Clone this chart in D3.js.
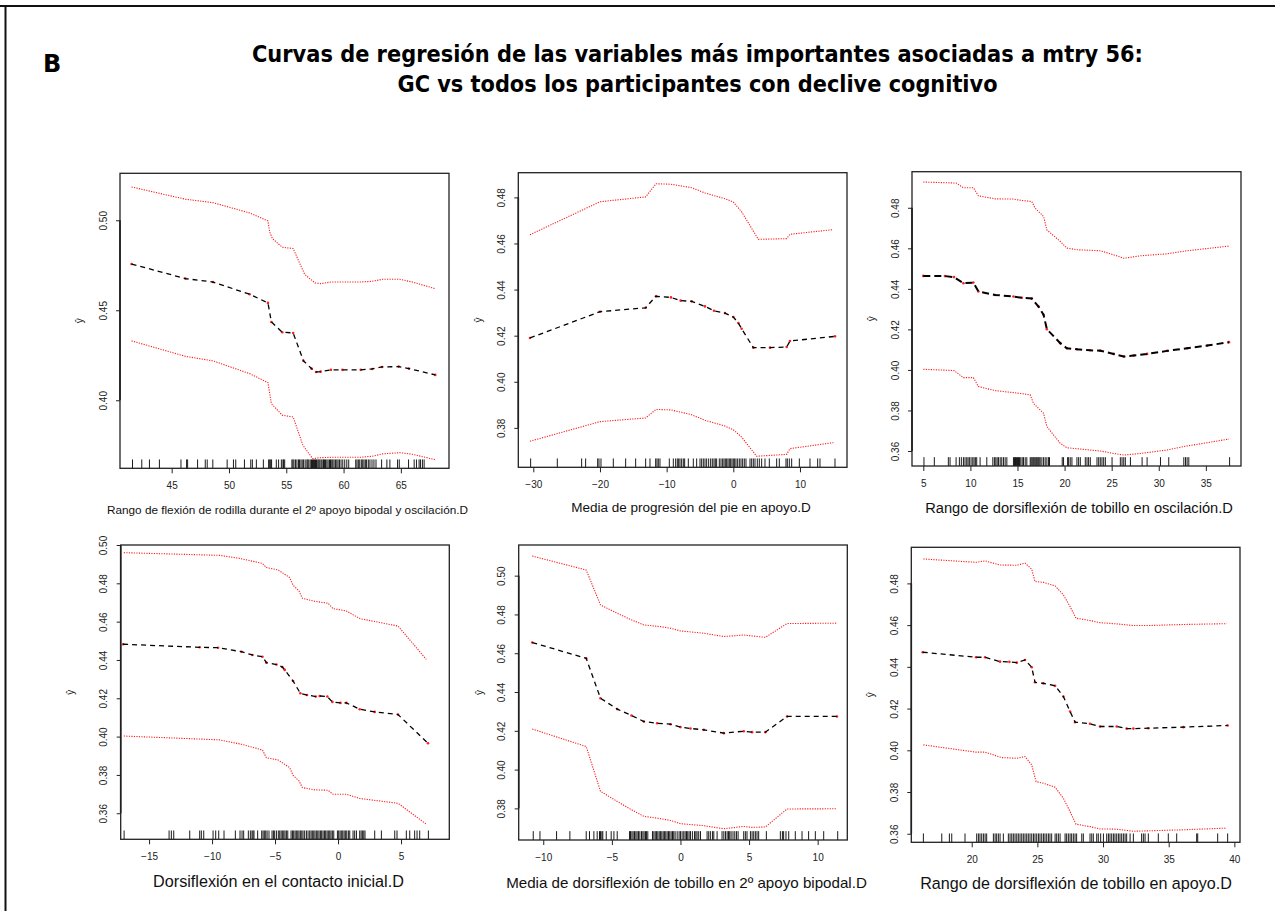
<!DOCTYPE html>
<html>
<head>
<meta charset="utf-8">
<script src="https://cdn.jsdelivr.net/npm/d3@7"></script>
<style>
  body { margin: 0; background: #fff; }
  svg { display: block; }
</style>
</head>
<body>
<svg id="fig" width="1275" height="911"></svg>
<script>
// ---------- Figure text ----------
const panelLetter = "B";
const titleLines = [
  "Curvas de regresión de las variables más importantes asociadas a mtry 56:",
  "GC vs todos los participantes con declive cognitivo"
];
const axisLabels = [
  "Rango de flexión de rodilla durante el 2º apoyo bipodal y oscilación.D",
  "Media de progresión del pie en apoyo.D",
  "Rango de dorsiflexión de tobillo en oscilación.D",
  "Dorsiflexión en el contacto inicial.D",
  "Media de dorsiflexión de tobillo en 2º apoyo bipodal.D",
  "Rango de dorsiflexión de tobillo en apoyo.D"
];
const yLabel = "ŷ";

// ---------- Tick values ----------
const xTicks1 = [45, 50, 55, 60, 65];
const yTicks1 = [0.40, 0.45, 0.50];
const xTicks2 = [-30, -20, -10, 0, 10];
const yTicks2 = [0.38, 0.40, 0.42, 0.44, 0.46, 0.48];
const xTicks3 = [5, 10, 15, 20, 25, 30, 35];
const yTicks3 = [0.36, 0.38, 0.40, 0.42, 0.44, 0.46, 0.48];
const xTicks4 = [-15, -10, -5, 0, 5];
const yTicks4 = [0.36, 0.38, 0.40, 0.42, 0.44, 0.46, 0.48, 0.50];
const xTicks5 = [-10, -5, 0, 5, 10];
const yTicks5 = [0.38, 0.40, 0.42, 0.44, 0.46, 0.48, 0.50];
const xTicks6 = [20, 25, 30, 35, 40];
const yTicks6 = [0.36, 0.38, 0.40, 0.42, 0.44, 0.46, 0.48];

// ---------- 1: knee flexion range ----------
const kneeMean = [[41.5,0.4757],[46.2,0.4676],[48.6,0.4657],[51.8,0.4589],[53.4,0.4541],[53.7,0.4435],[54.65,0.4378],[55.6,0.4374],[56.5,0.4219],[57.2,0.4176],[57.6,0.4157],[58.0,0.4159],[58.9,0.4169],[59.9,0.4169],[61.5,0.4169],[62.5,0.4174],[63.35,0.4185],[64.8,0.4187],[65.7,0.4176],[68.0,0.4141]];
const kneeUpper = [[41.5,0.5185],[46.2,0.5117],[48.6,0.5098],[51.8,0.5041],[53.4,0.4996],[53.55,0.4935],[53.8,0.4898],[54.65,0.485],[55.6,0.4843],[56.6,0.47],[57.5,0.4652],[58.0,0.4648],[58.9,0.4657],[61.4,0.4657],[62.5,0.4661],[63.4,0.4672],[64.9,0.4672],[66.0,0.4657],[68.0,0.462]];
const kneeLower = [[41.5,0.433],[46.2,0.4244],[48.6,0.4219],[51.8,0.4148],[53.4,0.4098],[53.7,0.3981],[54.65,0.3917],[55.6,0.3907],[56.45,0.375],[57.3,0.3676],[58.0,0.3681],[58.9,0.3683],[61.4,0.3683],[62.5,0.3689],[63.4,0.3702],[64.9,0.3709],[66.0,0.37],[68.0,0.367]];
const kneeRug = [41.58,42.39,43.06,43.93,45.81,46.3,46.39,47.26,47.93,48.1,48.59,49.84,50.39,50.59,51.35,51.9,52.04,52.39,53.0,53.46,53.55,53.64,53.72,54.13,54.33,54.57,54.71,54.77,54.86,55.49,55.58,55.67,55.81,55.93,56.07,56.16,56.28,56.39,56.51,56.65,56.8,56.88,56.97,57.09,57.2,57.29,57.38,57.46,57.55,57.64,57.75,57.84,57.93,58.04,58.13,58.25,58.33,58.42,58.54,58.65,58.77,58.86,58.97,59.06,59.17,59.29,59.41,59.52,59.64,59.78,59.93,60.1,60.28,60.45,61.06,61.17,61.29,61.41,61.55,61.67,61.78,61.9,62.01,62.16,62.3,62.48,62.65,62.83,63.32,63.78,64.04,64.71,64.86,65.67,66.16,66.36,66.59,66.71,66.88,67.03];

// ---------- 2: foot progression in stance ----------
const footMean = [[-30.5,0.419],[-20.0,0.4304],[-13.15,0.4321],[-11.6,0.4371],[-9.35,0.4366],[-7.9,0.4352],[-6.25,0.4349],[-4.25,0.4327],[-2.9,0.4308],[-1.25,0.4298],[0,0.4281],[0.75,0.4255],[1.25,0.423],[3.0,0.4148],[5.5,0.4148],[8.0,0.4151],[8.5,0.4177],[15.25,0.4197]];
const footUpper = [[-30.5,0.4638],[-20,0.4781],[-13.15,0.4802],[-11.6,0.4859],[-9.35,0.4857],[-6.25,0.4842],[-4.25,0.4819],[-1.25,0.4794],[0,0.478],[1.25,0.4737],[3.75,0.4618],[8.0,0.4621],[8.5,0.464],[15.0,0.466]];
const footLower = [[-30.5,0.3742],[-20,0.3827],[-13.15,0.3843],[-11.6,0.388],[-9.35,0.3878],[-6.25,0.3857],[-4.25,0.3833],[-1.25,0.3808],[0,0.3792],[1.25,0.376],[3.5,0.3677],[8.0,0.3685],[8.5,0.371],[15.0,0.3736]];
const footRug = [-30.4,-26.4,-22.75,-22.15,-20.35,-20.15,-19.85,-18.0,-16.15,-14.65,-13.15,-12.5,-11.65,-11.45,-11.25,-11.0,-9.6,-9.0,-8.65,-8.4,-8.2,-8.0,-7.75,-7.5,-7.3,-6.75,-6.0,-5.5,-5.0,-4.75,-4.5,-4.25,-4.0,-3.7,-3.4,-3.15,-2.9,-2.7,-2.5,-2.1,-1.85,-1.6,-1.4,-1.2,-1.0,-0.8,-0.6,-0.4,-0.2,0,0.2,0.4,0.65,0.9,1.15,1.4,1.65,1.9,2.5,2.75,3.0,3.25,3.6,3.9,4.25,4.75,5.4,6.5,6.9,7.9,8.1,8.4,8.75,9.9,11.5,12.65,13.0,15.25];

// ---------- 3: ankle dorsiflexion range in swing ----------
const swingMean = [[5.0,0.4464],[7.3,0.4463],[8.26,0.4458],[9.26,0.4428],[10.32,0.4431],[10.85,0.4387],[12.62,0.437],[14.57,0.4362],[15.46,0.4356],[16.52,0.4352],[17.23,0.4313],[17.77,0.4272],[18.12,0.4201],[19.54,0.4132],[20.25,0.4107],[21.31,0.4102],[22.73,0.4097],[23.79,0.4095],[25.21,0.4079],[26.28,0.4066],[27.34,0.4071],[28.76,0.4079],[30.89,0.4094],[33.01,0.4107],[35.14,0.412],[37.45,0.4137]];
const swingUpper = [[5.0,0.4927],[8.48,0.4922],[9.26,0.4899],[10.32,0.4899],[10.85,0.4859],[12.62,0.4844],[14.57,0.4843],[15.46,0.4836],[16.52,0.4831],[16.88,0.4798],[17.77,0.4757],[18.12,0.4691],[19.54,0.4634],[20.25,0.4601],[21.31,0.4593],[23.79,0.4588],[25.21,0.4568],[26.28,0.4551],[28.05,0.4563],[30.89,0.4573],[33.01,0.4588],[35.14,0.4599],[37.45,0.4611]];
const swingLower = [[5.0,0.4003],[8.26,0.3997],[9.26,0.3962],[10.32,0.3962],[10.85,0.3918],[12.62,0.3898],[14.57,0.3888],[15.46,0.3883],[16.35,0.3877],[16.7,0.3835],[17.77,0.3786],[18.12,0.372],[19.54,0.3638],[20.25,0.3616],[22.02,0.3608],[23.79,0.36],[25.21,0.3588],[26.28,0.358],[28.05,0.3588],[30.89,0.3605],[33.01,0.3625],[35.14,0.3641],[37.45,0.3659]];
const swingRug = [5.07,6.17,7.66,7.84,8.48,8.83,9.04,9.26,9.43,9.61,9.75,9.89,10.07,10.25,10.39,10.53,10.67,11.03,11.74,12.38,12.55,12.7,12.84,12.98,13.16,13.33,13.51,13.69,13.87,14.57,14.68,14.79,14.89,15.0,15.11,15.21,15.35,15.5,15.64,15.82,15.99,16.35,16.45,16.56,16.67,16.77,16.88,16.99,17.09,17.2,17.3,17.41,17.59,17.77,17.94,18.12,18.3,18.4,19.75,19.89,20.32,20.43,20.6,20.78,21.31,21.49,21.67,22.2,22.38,22.55,22.73,23.44,23.62,23.79,23.97,24.15,24.33,25.04,25.92,26.1,26.28,26.45,26.99,28.23,28.76,30.18,31.06,32.66,32.84,33.01,33.19,37.52];

// ---------- 4: dorsiflexion at initial contact ----------
const contactMean = [[-17.06,0.4482],[-10.98,0.4466],[-9.52,0.4464],[-7.67,0.4443],[-6.8,0.4426],[-6.0,0.4417],[-5.69,0.4386],[-4.89,0.4376],[-4.42,0.4363],[-4.23,0.4348],[-3.57,0.429],[-2.99,0.4226],[-2.46,0.4217],[-1.77,0.4209],[-1.46,0.4212],[-0.85,0.4209],[-0.45,0.4181],[0.19,0.4176],[0.66,0.4176],[1.72,0.4143],[2.91,0.4129],[4.76,0.4115],[7.14,0.3965]];
const contactUpper = [[-17.0,0.496],[-9.4,0.4946],[-7.8,0.493],[-6.0,0.4904],[-5.69,0.4882],[-4.76,0.487],[-3.84,0.483],[-3.57,0.479],[-3.1,0.476],[-2.83,0.4722],[-1.85,0.4706],[-0.79,0.4696],[-0.4,0.4668],[0.66,0.4656],[1.72,0.4616],[4.76,0.4577],[7.0,0.4403]];
const contactLower = [[-17.0,0.4003],[-9.4,0.3983],[-7.67,0.396],[-6.0,0.393],[-5.69,0.389],[-4.76,0.3878],[-3.84,0.3838],[-3.57,0.3798],[-3.1,0.3769],[-2.83,0.3734],[-1.85,0.3722],[-0.79,0.372],[-0.4,0.3699],[0.66,0.3699],[1.72,0.3677],[4.76,0.3652],[7.0,0.3543]];
const contactRug = [-16.98,-13.41,-13.23,-13.04,-11.77,-10.98,-10.85,-10.66,-9.92,-9.71,-9.47,-9.05,-8.15,-7.78,-7.62,-7.49,-7.12,-6.96,-6.83,-6.75,-6.67,-6.38,-6.06,-5.95,-5.85,-5.74,-5.63,-5.48,-5.24,-5.13,-5.03,-4.89,-4.74,-4.63,-4.52,-4.42,-4.31,-4.21,-4.1,-3.99,-3.73,-3.62,-3.52,-3.41,-3.31,-3.2,-3.1,-2.99,-2.88,-2.78,-2.65,-2.51,-2.38,-2.25,-2.14,-2.04,-1.93,-1.83,-1.72,-1.61,-1.51,-1.4,-1.3,-1.19,-1.08,-0.98,-0.87,-0.77,-0.66,-0.56,-0.45,-0.34,-0.05,0.05,0.16,0.26,0.37,0.48,0.58,0.69,0.82,0.93,1.19,1.32,1.46,1.72,1.83,1.93,2.04,2.14,2.91,3.44,4.5,4.68,5.42,5.69,6.08,6.27,6.48,7.17];

// ---------- 5: mean ankle dorsiflexion in 2nd double support ----------
const supportMean = [[-10.8,0.4655],[-6.87,0.4574],[-5.83,0.4368],[-4.61,0.4312],[-3.57,0.4279],[-2.67,0.4248],[-1.7,0.4239],[-0.73,0.4234],[0,0.4219],[0.73,0.4212],[1.7,0.4205],[3.16,0.4188],[4.61,0.4198],[5.22,0.4193],[6.19,0.4193],[7.77,0.4274],[11.41,0.4274]];
const supportUpper = [[-10.8,0.5101],[-6.87,0.5029],[-5.83,0.4849],[-4.61,0.4806],[-3.57,0.4772],[-2.67,0.4746],[-1.46,0.4737],[-0.73,0.4729],[0,0.4715],[1.7,0.4703],[3.16,0.4686],[4.61,0.4694],[5.22,0.4689],[6.19,0.4682],[7.77,0.4753],[11.41,0.4755]];
const supportLower = [[-10.8,0.4209],[-6.87,0.4119],[-5.83,0.3888],[-4.61,0.3836],[-3.57,0.3793],[-2.67,0.3759],[-1.46,0.3747],[-0.73,0.3738],[0,0.3721],[1.7,0.3711],[3.16,0.3695],[4.61,0.3707],[5.22,0.3702],[6.19,0.3704],[7.77,0.3797],[11.41,0.3798]];
const supportRug = [-10.73,-10.24,-9.03,-8.06,-6.87,-6.63,-6.31,-6.07,-5.9,-5.83,-5.73,-5.66,-5.41,-5.05,-4.85,-4.61,-3.71,-3.64,-3.54,-3.45,-3.35,-3.25,-3.16,-3.06,-2.96,-2.84,-2.74,-2.65,-2.55,-2.48,-2.38,-2.04,-1.94,-1.84,-1.75,-1.65,-1.55,-1.46,-1.36,-1.26,-1.17,-1.07,-0.97,-0.87,-0.78,-0.68,-0.58,-0.49,-0.39,-0.24,-0.1,0,0.12,0.24,0.34,0.44,0.53,0.63,0.73,0.87,1.02,1.12,1.21,1.33,1.46,1.94,2.06,2.18,2.33,2.43,2.67,3.03,3.16,3.28,3.4,3.5,3.59,3.69,3.83,3.96,4.08,4.2,4.61,4.73,4.85,5.1,5.22,5.34,5.46,5.58,5.7,6.26,7.28,7.43,7.52,7.69,7.89,8.37,8.86,9.34,9.83,10.44,11.46];

// ---------- 6: ankle dorsiflexion range in stance ----------
const stanceMean = [[16.27,0.447],[20.33,0.4446],[21.02,0.4446],[22.16,0.4425],[22.87,0.4424],[23.43,0.442],[24.06,0.4433],[24.57,0.4398],[24.82,0.4326],[25.46,0.4321],[26.35,0.4309],[26.98,0.4258],[27.49,0.4186],[27.87,0.4135],[29.01,0.4127],[29.77,0.4114],[31.04,0.4114],[31.8,0.4104],[32.31,0.4104],[33.45,0.4106],[36.12,0.4111],[39.49,0.4119]];
const stanceUpper = [[16.32,0.4917],[20.33,0.4901],[21.02,0.4908],[22.16,0.4888],[23.43,0.4887],[24.06,0.4897],[24.57,0.4868],[24.82,0.4809],[25.46,0.4805],[26.35,0.4788],[26.98,0.4745],[27.49,0.4689],[27.94,0.4633],[29.01,0.4622],[29.77,0.4612],[31.04,0.4606],[32.31,0.4598],[33.45,0.4598],[36.12,0.4603],[39.42,0.4607]];
const stanceLower = [[16.32,0.4026],[20.33,0.3991],[21.02,0.3991],[22.28,0.3965],[23.43,0.3962],[24.06,0.397],[24.57,0.393],[24.9,0.385],[25.46,0.3842],[26.35,0.3823],[26.98,0.377],[27.49,0.3706],[27.94,0.3646],[29.01,0.3634],[29.77,0.3623],[31.04,0.3622],[32.31,0.3612],[33.45,0.3614],[36.12,0.3619],[39.42,0.3627]];
const stanceRug = [16.32,17.72,18.3,18.48,19.49,20.38,20.51,20.63,20.76,20.89,21.02,21.14,21.65,21.78,21.9,22.03,22.16,22.41,22.79,22.92,23.05,23.17,23.3,23.43,23.55,23.68,23.81,23.93,24.06,24.19,24.31,24.44,24.57,24.7,24.82,24.95,25.08,25.2,25.33,25.46,25.58,25.71,25.84,25.96,26.09,26.35,26.47,26.6,26.73,27.11,27.23,27.36,27.49,27.61,27.74,27.87,27.99,28.38,28.5,29.01,29.14,29.26,29.52,29.64,29.82,30.03,30.28,30.41,30.53,30.66,30.79,30.91,31.04,31.17,31.29,31.42,31.55,31.68,31.8,32.06,32.31,32.94,33.07,33.2,33.45,34.21,34.97,35.61,37.13,37.21,38.73,39.49];

// ---------- Panel layout: plot box [left, top, width, height] and axis extents ----------
const panels = [
  { box: [120, 173.3, 329, 295], xDom: [40.49, 69.2], yDom: [0.3622, 0.5261], xTicks: xTicks1, yTicks: yTicks1,
    mean: kneeMean, upper: kneeUpper, lower: kneeLower, rug: kneeRug,
    label: axisLabels[0], labelX: 287.5, labelY: 514, labelW: 361, yLabX: 80, meanW: 1.3, dash: "5,4" },
  { box: [518.3, 172.7, 328.7, 294.6], xDom: [-32.25, 17.05], yDom: [0.3629, 0.4907], xTicks: xTicks2, yTicks: yTicks2,
    mean: footMean, upper: footUpper, lower: footLower, rug: footRug,
    label: axisLabels[1], labelX: 691, labelY: 512, labelW: 240, yLabX: 479, meanW: 1.3, dash: "5,4" },
  { box: [912, 171.7, 329, 294.3], xDom: [3.8, 38.73], yDom: [0.3526, 0.4978], xTicks: xTicks3, yTicks: yTicks3,
    mean: swingMean, upper: swingUpper, lower: swingLower, rug: swingRug,
    label: axisLabels[2], labelX: 1079, labelY: 513, labelW: 308, yLabX: 871.7, meanW: 2, dash: "7,4" },
  { box: [120.7, 545, 328.6, 294.3], xDom: [-17.25, 8.83], yDom: [0.3464, 0.50], xTicks: xTicks4, yTicks: yTicks4,
    mean: contactMean, upper: contactUpper, lower: contactLower, rug: contactRug,
    label: axisLabels[3], labelX: 278.5, labelY: 887, labelW: 251, yLabX: 71, meanW: 1.3, dash: "5,4" },
  { box: [518.7, 545, 328.6, 295], xDom: [-11.79, 12.16], yDom: [0.3637, 0.5158], xTicks: xTicks5, yTicks: yTicks5,
    mean: supportMean, upper: supportUpper, lower: supportLower, rug: supportRug,
    label: axisLabels[4], labelX: 686.5, labelY: 888, labelW: 361, yLabX: 480, meanW: 1.3, dash: "5,4" },
  { box: [911.3, 547.3, 328.7, 295], xDom: [15.4, 40.43], yDom: [0.3559, 0.4973], xTicks: xTicks6, yTicks: yTicks6,
    mean: stanceMean, upper: stanceUpper, lower: stanceLower, rug: stanceRug,
    label: axisLabels[5], labelX: 1076, labelY: 889, labelW: 312, yLabX: 870.7, meanW: 1.3, dash: "5,4" }
];

const svg = d3.select("#fig");
svg.append("rect").attr("width", 1275).attr("height", 911).attr("fill", "#fff");

// Outer frame (top and left rules)
svg.append("line").attr("x1", 0).attr("x2", 1275).attr("y1", 6).attr("y2", 6)
  .attr("stroke", "#111").attr("stroke-width", 2);
svg.append("line").attr("x1", 5.5).attr("x2", 5.5).attr("y1", 6).attr("y2", 911)
  .attr("stroke", "#111").attr("stroke-width", 2);

// Panel letter and title
svg.append("text").attr("x", 43).attr("y", 72)
  .attr("font-family", "DejaVu Sans, sans-serif").attr("font-weight", "bold")
  .attr("font-size", 24).attr("fill", "#000").text(panelLetter);

const titleLayout = [{ y: 62, w: 891 }, { y: 92, w: 600 }];
titleLines.forEach((t, i) => {
  svg.append("text").attr("x", 697.5).attr("y", titleLayout[i].y)
    .attr("text-anchor", "middle")
    .attr("font-family", "DejaVu Sans Condensed, DejaVu Sans, sans-serif")
    .attr("font-weight", "bold").attr("font-size", 23).attr("fill", "#000")
    .attr("textLength", titleLayout[i].w).attr("lengthAdjust", "spacingAndGlyphs")
    .text(t);
});

const font = "Liberation Sans, Arial, sans-serif";
const yFmt = d3.format(".2f");
const xFmt = d3.format("d");

panels.forEach(p => {
  const [L, T, W, H] = p.box;
  const x = d3.scaleLinear().domain(p.xDom).range([L, L + W]);
  const y = d3.scaleLinear().domain(p.yDom).range([T + H, T]);
  const g = svg.append("g");

  // x axis: ticks below the box
  const xa = g.append("g").attr("transform", `translate(0,${T + H})`)
    .call(d3.axisBottom(x).tickValues(p.xTicks).tickFormat(xFmt).tickSize(5).tickPadding(6));
  xa.select(".domain").remove();
  xa.selectAll(".tick line").attr("stroke", "#222");
  xa.selectAll(".tick text").attr("font-family", font).attr("font-size", 10).attr("fill", "#222")
    .attr("dy", null).attr("y", 21);

  // y axis: ticks left of the box, labels rotated
  const ya = g.append("g").attr("transform", `translate(${L},0)`)
    .call(d3.axisLeft(y).tickValues(p.yTicks).tickFormat(yFmt).tickSize(4));
  ya.select(".domain").remove();
  ya.selectAll(".tick line").attr("stroke", "#222");
  ya.selectAll(".tick text").attr("font-family", font).attr("font-size", 10).attr("fill", "#222")
    .attr("x", null).attr("dy", null).attr("text-anchor", "middle")
    .attr("transform", "translate(-13.5,0) rotate(-90)");
  // axis line between first and last tick
  g.append("line").attr("x1", L).attr("x2", L)
    .attr("y1", y(p.yTicks[0])).attr("y2", y(p.yTicks[p.yTicks.length - 1]))
    .attr("stroke", "#111").attr("stroke-width", 1.6);

  // rug along the bottom of the box
  const rugLen = H * 0.03;
  g.append("g").selectAll("line").data(p.rug).join("line")
    .attr("x1", d => x(d)).attr("x2", d => x(d))
    .attr("y1", T + H).attr("y2", T + H - rugLen)
    .attr("stroke", "#000").attr("stroke-width", 0.9);

  const line = d3.line().x(d => x(d[0])).y(d => y(d[1]));

  // confidence band edges: red dotted
  [p.upper, p.lower].forEach(band => {
    g.append("path").datum(band).attr("d", line)
      .attr("fill", "none").attr("stroke", "#ff1a1a").attr("stroke-width", 1.1)
      .attr("stroke-dasharray", "1.2,1.3");
  });

  // fitted curve: red points under a black dashed line
  g.append("g").selectAll("circle").data(p.mean).join("circle")
    .attr("cx", d => x(d[0])).attr("cy", d => y(d[1])).attr("r", 1.3)
    .attr("fill", "#ff2020");
  g.append("path").datum(p.mean).attr("d", line)
    .attr("fill", "none").attr("stroke", "#000").attr("stroke-width", p.meanW)
    .attr("stroke-dasharray", p.dash);

  // plot box
  g.append("rect").attr("x", L).attr("y", T).attr("width", W).attr("height", H)
    .attr("fill", "none").attr("stroke", "#222").attr("stroke-width", 1.3);

  // x axis title, sized to its measured width
  const lab = g.append("text").attr("x", p.labelX).attr("y", p.labelY)
    .attr("text-anchor", "middle").attr("font-family", font).attr("font-size", 14)
    .attr("fill", "#111").text(p.label);
  const natural = lab.node().getComputedTextLength();
  lab.attr("font-size", 14 * p.labelW / natural);

  // y axis title
  g.append("text").attr("transform", `translate(${p.yLabX + 3},${T + H / 2}) rotate(-90)`)
    .attr("text-anchor", "middle").attr("font-family", font).attr("font-size", 10)
    .attr("fill", "#222").text(yLabel);
});
</script>
</body>
</html>
